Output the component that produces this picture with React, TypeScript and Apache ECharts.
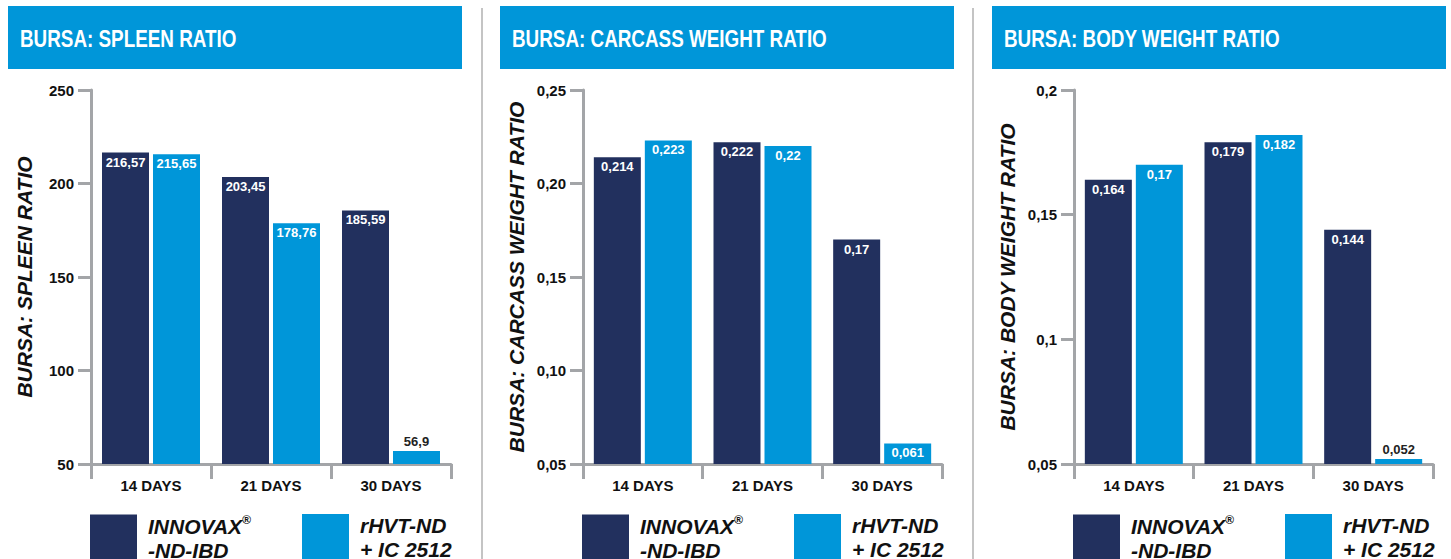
import React, { useEffect, useRef } from "react";
import * as echarts from "echarts";

const categories = ["14 DAYS", "21 DAYS", "30 DAYS"];
const seriesNames = ["INNOVAX®-ND-IBD", "rHVT-ND + IC 2512"];

const spleenInnovax = [216.57, 203.45, 185.59];
const spleenRhvt = [215.65, 178.76, 56.9];
const carcassInnovax = [0.214, 0.222, 0.17];
const carcassRhvt = [0.223, 0.22, 0.061];
const bodyInnovax = [0.164, 0.179, 0.144];
const bodyRhvt = [0.17, 0.182, 0.052];

const titles = ["BURSA: SPLEEN RATIO", "BURSA: CARCASS WEIGHT RATIO", "BURSA: BODY WEIGHT RATIO"];
const yNames = ["BURSA: SPLEEN RATIO", "BURSA: CARCASS WEIGHT RATIO", "BURSA: BODY WEIGHT RATIO"];
const yMins = [50, 0.05, 0.05];
const yMaxs = [250, 0.25, 0.2];
const yIntervals = [50, 0.05, 0.05];
const yDecimals = [0, 2, -1]; // -1: shortest form

const NAVY = "#22305e";
const BLUE = "#0096d9";
const GRAY = "#a3a5a8";
const FONT = '"Liberation Sans", Arial, Helvetica, sans-serif';

const panelAxisX = [91, 583, 1074];
const panelWidth = [360, 359, 359];
const titleX = [8, 500, 992];
const GRID_TOP = 90;
const GRID_H = 374;

function fmtComma(v: number, dec: number): string {
  let s: string;
  if (dec < 0) s = String(parseFloat(v.toFixed(4)));
  else s = v.toFixed(dec);
  return s.replace(".", ",");
}

export default function App() {
  const ref = useRef<HTMLDivElement>(null);
  useEffect(() => {
    document.body.style.margin = "0";
    if (!ref.current) return;
    const chart = echarts.init(ref.current, undefined, { renderer: "svg" });

    const datasets = [
      [spleenInnovax, spleenRhvt],
      [carcassInnovax, carcassRhvt],
      [bodyInnovax, bodyRhvt],
    ];

    const grids: any[] = [];
    const xAxes: any[] = [];
    const yAxes: any[] = [];
    const series: any[] = [];
    const legends: any[] = [];
    const graphics: any[] = [];

    const rich = {
      p: { fontSize: 21, fontWeight: "bold", fontStyle: "italic", lineHeight: 24, color: "#111", fontFamily: FONT, padding: [0, 0, 0, 6] },
      s: { fontSize: 12, fontWeight: "bold", fontStyle: "italic", lineHeight: 24, color: "#111", fontFamily: FONT, verticalAlign: "top", padding: [0, 0, 8, 0] },
    };

    for (let p = 0; p < 3; p++) {
      grids.push({ left: panelAxisX[p], top: GRID_TOP, width: panelWidth[p], height: GRID_H, containLabel: false });
      xAxes.push({
        type: "category",
        gridIndex: p,
        data: categories,
        axisLine: { lineStyle: { color: GRAY, width: 3 } },
        axisTick: { show: true, length: 15, lineStyle: { color: GRAY, width: 3 } },
        axisLabel: { margin: 14, color: "#111", fontWeight: "bold", fontSize: 15, fontFamily: FONT },
      });
      const dec = yDecimals[p];
      yAxes.push({
        type: "value",
        gridIndex: p,
        min: yMins[p],
        max: yMaxs[p],
        interval: yIntervals[p],
        splitLine: { show: false },
        axisLine: { show: true, lineStyle: { color: GRAY, width: 3 } },
        axisTick: { show: true, length: 13, lineStyle: { color: GRAY, width: 3 } },
        axisLabel: {
          margin: 17,
          color: "#111",
          fontWeight: "bold",
          fontSize: 15,
          fontFamily: FONT,
          formatter: (v: number) => fmtComma(v, dec),
        },
        name: yNames[p],
        nameLocation: "middle",
        nameRotate: 90,
        nameGap: 56,
        nameTextStyle: { color: "#111", fontWeight: "bold", fontStyle: "italic", fontSize: 21, fontFamily: FONT },
      });
      const range = yMaxs[p] - yMins[p];
      for (let s = 0; s < 2; s++) {
        const vals = datasets[p][s];
        series.push({
          type: "bar",
          name: seriesNames[s],
          xAxisIndex: p,
          yAxisIndex: p,
          barWidth: 47,
          barGap: "8.5%",
          itemStyle: { color: s === 0 ? NAVY : BLUE },
          data: vals.map((v) => {
            const px = ((v - yMins[p]) / range) * GRID_H;
            const inside = px > 16;
            return {
              value: v,
              label: {
                show: true,
                position: inside ? "insideTop" : "top",
                distance: 3,
                color: inside ? "#fff" : "#222",
                fontWeight: "bold",
                fontSize: 13,
                fontFamily: FONT,
                formatter: () => fmtComma(v, -1),
              },
            };
          }),
        });
      }
      const legendLefts = [panelAxisX[p] - 1, panelAxisX[p] + 211];
      for (let s = 0; s < 2; s++) {
        legends.push({
          data: [seriesNames[s]],
          left: legendLefts[s],
          top: 514,
          padding: 0,
          itemWidth: 47,
          itemHeight: 47,
          icon: "rect",
          selectedMode: false,
          formatter: (name: string) =>
            name === seriesNames[0]
              ? "{p|INNOVAX}{s|®}\n{p|-ND-IBD}"
              : "{p|rHVT-ND}\n{p|+ IC 2512}",
          textStyle: { rich },
        });
      }
      graphics.push({
        type: "rect",
        shape: { x: titleX[p], y: 6, width: 454, height: 63 },
        style: { fill: BLUE },
        silent: true,
      });
      graphics.push({
        type: "text",
        x: titleX[p] + 12,
        y: 39,
        scaleX: 0.82,
        style: {
          text: titles[p],
          fill: "#fff",
          font: `bold 23px ${FONT}`,
          textVerticalAlign: "middle",
          verticalAlign: "middle",
        },
        silent: true,
      });
    }
    for (const x of [482, 973]) {
      graphics.push({
        type: "line",
        shape: { x1: x, y1: 8, x2: x, y2: 559 },
        style: { stroke: "#c4c4c4", lineWidth: 2 },
        silent: true,
      });
    }

    chart.setOption({
      animation: false,
      backgroundColor: "#ffffff",
      textStyle: { fontFamily: FONT },
      grid: grids,
      xAxis: xAxes,
      yAxis: yAxes,
      series,
      legend: legends,
      graphic: graphics,
    });
    return () => chart.dispose();
  }, []);
  return <div ref={ref} style={{ width: 1451, height: 559 }} />;
}
